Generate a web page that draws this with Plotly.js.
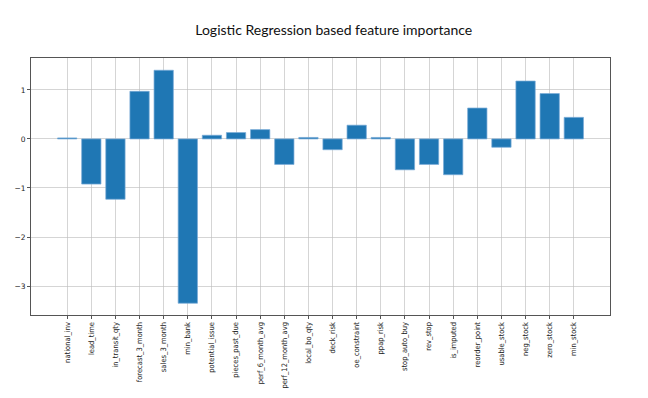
<!DOCTYPE html>
<html>
<head>
<meta charset="utf-8">
<script src="https://cdn.plot.ly/plotly-3.0.1.min.js"></script>
<style>html,body{margin:0;padding:0;background:#fff;}#chart{width:648px;height:398px;}</style>
</head>
<body>
<div id="chart"></div>
<script>
const features = ["national_inv","lead_time","in_transit_qty","forecast_3_month","sales_3_month","min_bank","potential_issue","pieces_past_due","perf_6_month_avg","perf_12_month_avg","local_bo_qty","deck_risk","oe_constraint","ppap_risk","stop_auto_buy","rev_stop","is_imputed","reorder_point","usable_stock","neg_stock","zero_stock","min_stock"];
const importance = [0.02,-0.92,-1.23,0.97,1.40,-3.35,0.075,0.13,0.19,-0.52,0.03,-0.22,0.28,0.03,-0.63,-0.52,-0.73,0.63,-0.17,1.18,0.925,0.44];
const yTicks = [-3,-2,-1,0,1];
const titleText = "Logistic Regression based feature importance";

const trace = {
  type: 'bar',
  x: features.map((_, i) => i),
  y: importance,
  width: 0.8,
  marker: {color: '#1f77b4', line: {color: 'rgba(120,170,215,0.9)', width: 0.8}},
  hoverinfo: 'x+y'
};

const layout = {
  width: 648, height: 398,
  margin: {l: 31, r: 38, t: 58, b: 83},
  paper_bgcolor: '#fff', plot_bgcolor: '#fff',
  showlegend: false,
  title: {text: titleText, x: 0.515, xanchor: 'center', y: 0.925, yanchor: 'middle',
          font: {family: 'Lato, "Open Sans", sans-serif', size: 14, color: '#111'}},
  xaxis: {
    range: [-1.5, 22.5],
    tickmode: 'array', tickvals: features.map((_, i) => i), ticktext: features,
    tickangle: -90,
    tickfont: {family: '"Liberation Sans Narrow", "DejaVu Sans Condensed", sans-serif', size: 7.5, color: '#222'},
    showgrid: true, gridcolor: 'rgba(190,190,190,0.65)', gridwidth: 1,
    zeroline: false,
    showline: true, linecolor: '#555', linewidth: 1, mirror: true,
    ticks: 'outside', ticklen: 3, tickcolor: '#555',
    layer: 'above traces', fixedrange: true
  },
  yaxis: {
    range: [-3.59, 1.65],
    tickmode: 'array', tickvals: yTicks, ticktext: yTicks.map(v => v < 0 ? '\u2212' + Math.abs(v) : String(v)),
    tickfont: {family: '"DejaVu Sans", sans-serif', size: 7.5, color: '#222'},
    showgrid: true, gridcolor: 'rgba(190,190,190,0.65)', gridwidth: 1,
    zeroline: false,
    showline: true, linecolor: '#555', linewidth: 1, mirror: true,
    ticks: 'outside', ticklen: 3, tickcolor: '#555',
    layer: 'above traces', fixedrange: true
  }
};

Plotly.newPlot('chart', [trace], layout, {displayModeBar: false, staticPlot: true});
</script>
</body>
</html>
